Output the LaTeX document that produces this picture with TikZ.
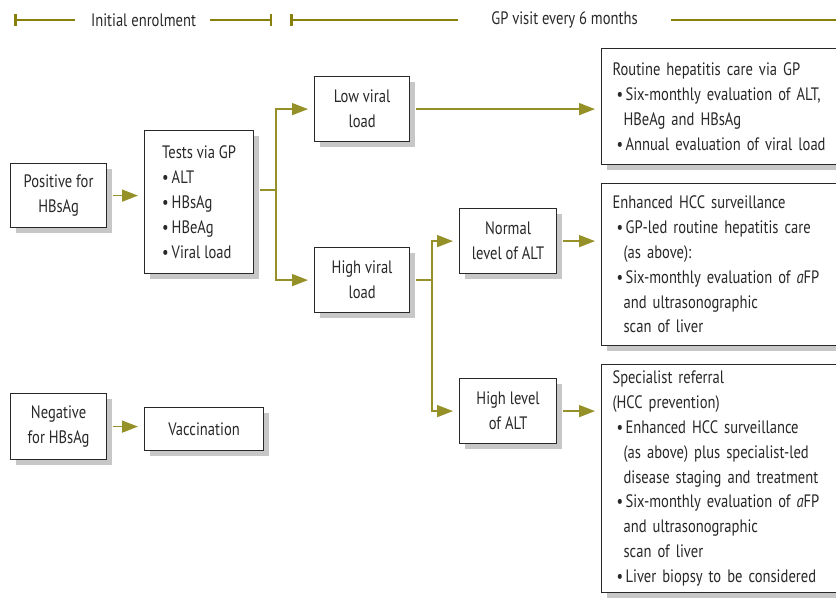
\documentclass[tikz,border=0pt]{standalone}
\usepackage{fontspec}
\setmainfont{PT Sans}[FakeStretch=0.81]
\usetikzlibrary{arrows.meta,shadows}
\definecolor{oliv}{RGB}{150,144,40}
\definecolor{tlcol}{RGB}{135,128,10}
\definecolor{ink}{RGB}{40,40,40}
\newcommand{\bitem}{\makebox[13pt][r]{\textbullet\hspace{2.5pt}}}
\newcommand{\bcont}{\hspace*{11pt}}
\begin{document}
\begin{tikzpicture}[x=1pt,y=-1pt,
    box/.style={draw=ink, line width=1.2pt, fill=white, anchor=north west,
      drop shadow={shadow xshift=5pt, shadow yshift=-5pt, fill=black!22, opacity=1},
      font=\fontsize{18}{24.8}\selectfont, text=ink},
    cbox/.style={box, align=center, inner sep=2pt},
    lbox/.style={box, align=left, inner sep=2pt},
    rbox/.style={box, align=left, text width=250pt, inner xsep=11pt, inner ysep=2pt},
    link/.style={draw=oliv, line width=1.6pt},
    arr/.style={link, -{Triangle[length=16pt,width=12pt]}, shorten >=6pt},
    tlabel/.style={inner sep=0pt, font=\fontsize{18}{20}\selectfont, text=ink},
    tline/.style={draw=tlcol, line width=2.5pt}]
  \useasboundingbox (0,0) rectangle (836,603);

  % timeline
  \node[tlabel] (enrol) at (143.5,20) {Initial enrolment};
  \node[tlabel] (gpvisit) at (564.5,20) {GP visit every 6 months};
  \coordinate (t0) at (14,20);
  \coordinate (t1) at (272,20);
  \coordinate (t2) at (290,20);
  \coordinate (t3) at (845,20);
  \draw[tline, {Bar[width=12pt]}-] (t0) -- ([xshift=-16pt]enrol.west);
  \draw[tline, -{Bar[width=12pt]}] ([xshift=14pt]enrol.east) -- (t1);
  \draw[tline, {Bar[width=12pt]}-] (t2) -- ([xshift=-33pt]gpvisit.west);
  \draw[tline] ([xshift=33pt]gpvisit.east) -- (t3);

  % boxes
  \node[cbox, minimum width=96pt, minimum height=64pt] (pos) at (10,163) {Positive for\\HBsAg};
  \node[lbox, minimum width=109pt, minimum height=143pt] (tests) at (144,130)
    {Tests via GP\\\textbullet\,ALT\\\textbullet\,HBsAg\\\textbullet\,HBeAg\\\textbullet\,Viral load};
  \node[cbox, minimum width=95pt, minimum height=65pt] (low) at (314,76) {Low viral\\load};
  \node[cbox, minimum width=95pt, minimum height=65pt] (high) at (314,247) {High viral\\load};
  \node[cbox, minimum width=97pt, minimum height=65pt] (normal) at (459,208) {Normal\\level of ALT};
  \node[cbox, minimum width=97pt, minimum height=65pt] (highalt) at (459,378) {High level\\of ALT};
  \node[cbox, minimum width=96pt, minimum height=66pt] (neg) at (10,393) {Negative\\for HBsAg};
  \node[cbox, minimum width=119pt, minimum height=43pt] (vacc) at (144,407) {Vaccination};
  \node[rbox, minimum height=116pt] (routine) at (601,48)
    {Routine hepatitis care via GP\\
     \bitem Six-monthly evaluation of ALT,\\
     \bcont HBeAg and HBsAg\\
     \bitem Annual evaluation of viral load};
  \node[rbox, minimum height=162pt] (enhanced) at (601,183)
    {Enhanced HCC surveillance\\
     \bitem GP-led routine hepatitis care\\
     \bcont (as above):\\
     \bitem Six-monthly evaluation of \textit{a}FP\\
     \bcont and ultrasonographic\\
     \bcont scan of liver};
  \node[rbox, minimum height=228pt] (special) at (601,364)
    {Specialist referral\\
     (HCC prevention)\\
     \bitem Enhanced HCC surveillance\\
     \bcont (as above) plus specialist-led\\
     \bcont disease staging and treatment\\
     \bitem Six-monthly evaluation of \textit{a}FP\\
     \bcont and ultrasonographic\\
     \bcont scan of liver\\
     \bitem Liver biopsy to be considered};

  % connectors
  \coordinate (split1) at (276,190);
  \draw[arr, shorten <=6pt] (pos.east) -- (pos.east -| tests.west);
  \draw[link, shorten <=6pt] (tests.east |- split1) -- (split1);
  \draw[arr] (split1) |- (low.west);
  \draw[arr] (split1) |- (high.west);
  \draw[arr, shorten <=6pt] (low.east) -- (low.east -| routine.west);
  \draw[link, shorten <=6pt] (high.east) -- ++(22,0) coordinate (split2);
  \draw[arr] (split2) |- (normal.west);
  \draw[arr] (split2) |- (highalt.west);
  \draw[arr, shorten <=6pt] (normal.east) -- (normal.east -| enhanced.west);
  \draw[arr, shorten <=6pt] (highalt.east) -- (highalt.east -| special.west);
  \draw[arr, shorten <=6pt] (neg.east) -- (neg.east -| vacc.west);
\end{tikzpicture}
\end{document}
